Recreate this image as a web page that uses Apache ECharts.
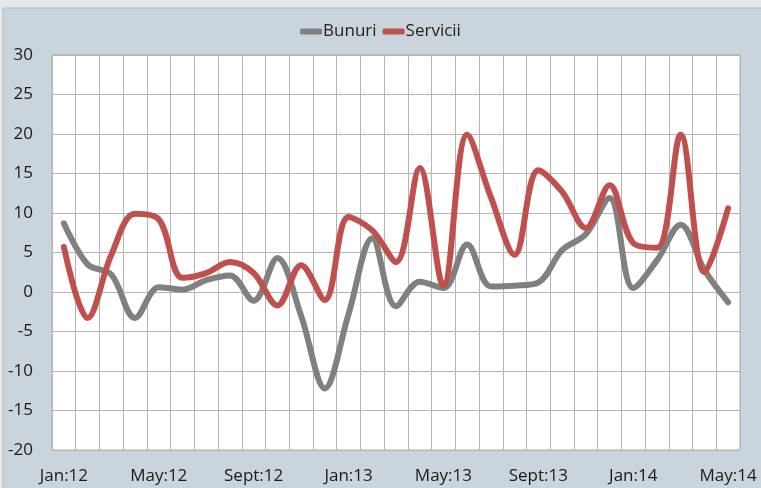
<!DOCTYPE html>
<html>
<head>
<meta charset="utf-8">
<script src="https://cdn.jsdelivr.net/npm/echarts@6/dist/echarts.min.js"></script>
<style>
  html, body { margin: 0; padding: 0; background: #e4e6e8; }
  #chart { width: 761px; height: 488px; }
</style>
</head>
<body>
<div id="chart"></div>
<script>
// lunile, Jan:12 .. May:14
const months = [
    "Jan:12", "Feb:12", "Mar:12", "Apr:12", "May:12", "Jun:12", "Jul:12", "Aug:12",
    "Sept:12", "Oct:12", "Nov:12", "Dec:12", "Jan:13", "Feb:13", "Mar:13", "Apr:13",
    "May:13", "Jun:13", "Jul:13", "Aug:13", "Sept:13", "Oct:13", "Nov:13", "Dec:13",
    "Jan:14", "Feb:14", "Mar:14", "Apr:14", "May:14"
];

const bunuri = [
    8.7, 3.5, 2.2, -3.3, 0.6, 0.3, 1.5, 2.1,
    -1.1, 4.3, -3.0, -12.2, -2.8, 6.8, -1.8, 1.3,
    0.5, 6.0, 0.7, 0.8, 1.2, 5.3, 7.3, 11.9,
    0.5, 4.0, 8.5, 2.8, -1.3
];

const servicii = [
    5.7, -3.3, 4.7, 9.9, 9.2, 1.8, 2.4, 3.8,
    2.4, -1.7, 3.4, -1.0, 9.5, 7.8, 3.8, 15.7,
    0.8, 19.9, 12.0, 4.7, 15.4, 12.7, 8.1, 13.5,
    6.2, 5.6, 19.9, 2.5, 10.6
];

const chart = echarts.init(document.getElementById("chart"));

const font = "'Open Sans', sans-serif";

chart.setOption({
    backgroundColor: "#e6e7e8",
    animation: false,
    graphic: [
        {
            type: "rect",
            shape: { x: 3, y: 8, width: 770, height: 490 },
            style: { fill: "#c9d4dc", stroke: "#aab4bc", lineWidth: 1 },
            z: -10,
            silent: true
        }
    ],
    legend: {
        top: 18,
        left: "center",
        itemWidth: 22,
        itemHeight: 6,
        itemGap: 6,
        icon: "roundRect",
        textStyle: { fontFamily: font, fontSize: 17, color: "#222", padding: [0, 0, 0, -4] },
        data: ["Bunuri", "Servicii"]
    },
    grid: {
        left: 52,
        right: 21,
        top: 55,
        bottom: 38,
        show: true,
        backgroundColor: "#ffffff",
        borderColor: "#b0b0b0",
        borderWidth: 1
    },
    xAxis: {
        type: "category",
        data: months,
        boundaryGap: true,
        axisLine: { show: false },
        axisTick: { show: false },
        axisLabel: {
            interval: 3,
            margin: 18,
            fontFamily: font,
            fontSize: 17,
            color: "#1a1a1a"
        },
        splitLine: { show: true, interval: 0, lineStyle: { color: "#b4b4b4", width: 1 } }
    },
    yAxis: {
        type: "value",
        min: -20,
        max: 30,
        interval: 5,
        axisLine: { show: false },
        axisTick: { show: false },
        axisLabel: {
            margin: 19,
            fontFamily: font,
            fontSize: 17,
            color: "#1a1a1a"
        },
        splitLine: { lineStyle: { color: "#b4b4b4", width: 1 } }
    },
    series: [
        {
            name: "Bunuri",
            type: "line",
            data: bunuri,
            smooth: 0.35,
            symbol: "none",
            color: "#808080",
            lineStyle: { width: 6, color: "#808080", cap: "round" }
        },
        {
            name: "Servicii",
            type: "line",
            data: servicii,
            smooth: 0.35,
            symbol: "none",
            color: "#c0504d",
            lineStyle: { width: 6, color: "#c0504d", cap: "round" }
        }
    ]
});
</script>
</body>
</html>
